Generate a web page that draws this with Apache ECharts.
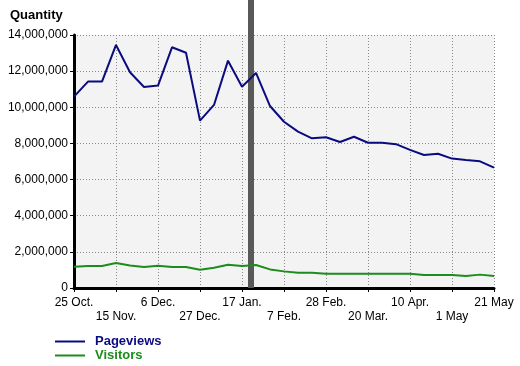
<!DOCTYPE html>
<html>
<head>
<meta charset="utf-8">
<script src="https://cdn.jsdelivr.net/npm/echarts@6/dist/echarts.min.js"></script>
<style>html,body{margin:0;padding:0;background:#fff}#c{width:520px;height:366px}</style>
</head>
<body>
<div id="c"></div>
<script>
// Days since 25 Oct for each weekly point
var weekDays = [0,7,14,21,28,35,42,49,56,63,70,77,84,91,98,105,112,119,126,133,140,147,154,161,168,175,182,189,196,203,210];
var pageviews = [10590000,11420000,11420000,13450000,11940000,11120000,11200000,13320000,13020000,9260000,10130000,12580000,11140000,11900000,10070000,9200000,8650000,8280000,8340000,8080000,8370000,8040000,8040000,7960000,7640000,7360000,7430000,7160000,7080000,7010000,6660000];
var visitors = [1180000,1220000,1220000,1380000,1250000,1160000,1230000,1160000,1160000,1010000,1120000,1290000,1220000,1270000,1030000,920000,850000,840000,790000,790000,790000,790000,790000,790000,790000,720000,720000,720000,660000,740000,660000];
var tickLabels = ['25 Oct.','15 Nov.','6 Dec.','27 Dec.','17 Jan.','7 Feb.','28 Feb.','20 Mar.','10 Apr.','1 May','21 May'];
var markerRange = [87, 90];

function pairs(vals){ return vals.map(function(v,i){ return [weekDays[i], v]; }); }

var chart = echarts.init(document.getElementById('c'), null, {renderer:'canvas'});
var font = 'Liberation Sans, Arial, sans-serif';
var navy = '#0b0b80';
var green = '#1c8c1c';
chart.setOption({
  animation: false,
  backgroundColor: '#ffffff',
  title: {text:'Quantity', left: 5, top: 4, textStyle:{fontFamily:font, fontSize:13, fontWeight:'bold', color:'#000'}},
  legend: {
    orient:'vertical', left: 55, top: 335, padding: 0, itemWidth: 30, itemHeight: 12, itemGap: 1,
    icon: 'path://M0,5 L30,5 L30,7 L0,7 Z',
    data: [
      {name:'Pageviews', textStyle:{color:navy}},
      {name:'Visitors', textStyle:{color:green}}
    ],
    textStyle:{fontFamily:font, fontSize:13, fontWeight:'bold', lineHeight:12, padding:[0,0,0,5]}
  },
  grid: [
    {left:74, right:26, top:35, bottom:78, show:true, backgroundColor:'#f3f3f3', borderWidth:0},
    {left:74, right:26, top:0, bottom:78, show:false}
  ],
  xAxis: [
    {type:'value', gridIndex:0, min:0, max:210, interval:21,
     axisLine:{show:true, onZero:false, lineStyle:{color:'#000', width:3}},
     axisTick:{show:true, length:4, lineStyle:{color:'#000', width:1}},
     axisLabel:{fontFamily:font, fontSize:12, color:'#000', margin:8, lineHeight:14,
       formatter:function(v){ var i=Math.round(v/21); var t=tickLabels[i]||''; return (i%2===1)?('\n'+t):t; }},
     splitLine:{show:true, lineStyle:{color:'#888', type:[1,2], width:1}}
    },
    {type:'value', gridIndex:1, min:0, max:210, show:false}
  ],
  yAxis: [
    {type:'value', gridIndex:0, min:0, max:14000000, interval:2000000,
     axisLine:{show:true, lineStyle:{color:'#000', width:3}},
     axisTick:{show:true, length:4, lineStyle:{color:'#000'}},
     axisLabel:{fontFamily:font, fontSize:12, color:'#000', margin:6,
       formatter:function(v){ return v.toString().replace(/\B(?=(\d{3})+(?!\d))/g, ','); }},
     splitLine:{show:true, lineStyle:{color:'#888', type:[1,2], width:1}}
    },
    {type:'value', gridIndex:1, min:0, max:1, show:false}
  ],
  series: [
    {name:'Pageviews', type:'line', xAxisIndex:0, yAxisIndex:0, data:pairs(pageviews), showSymbol:false,
     lineStyle:{color:navy, width:2}, itemStyle:{color:navy}, z:2},
    {name:'Visitors', type:'line', xAxisIndex:0, yAxisIndex:0, data:pairs(visitors), showSymbol:false,
     lineStyle:{color:green, width:2}, itemStyle:{color:green}, z:2},
    {name:'marker', type:'line', xAxisIndex:1, yAxisIndex:1, data:[], z:10, silent:true,
     markArea:{silent:true, itemStyle:{color:'#595959', opacity:1},
       data:[[{xAxis:markerRange[0]},{xAxis:markerRange[1]}]]}}
  ]
});
</script>
</body>
</html>
